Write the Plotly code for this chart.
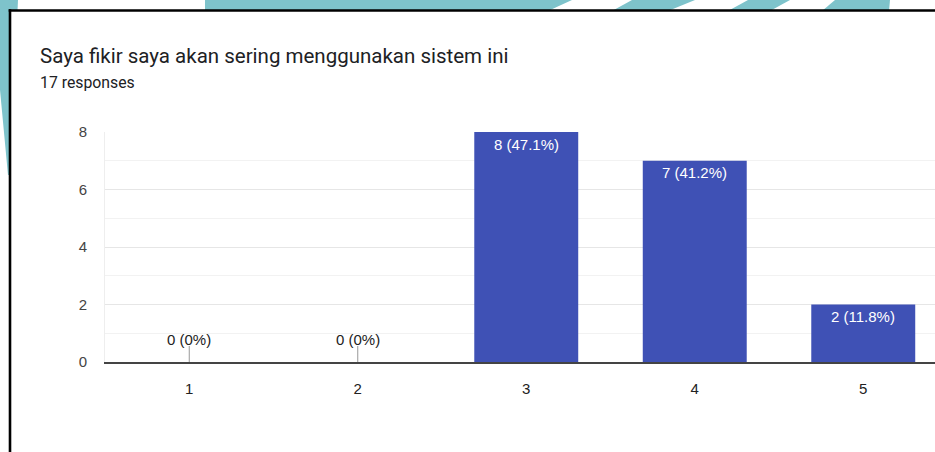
import plotly.graph_objects as go

# ---- data ----
categories = [1, 2, 3, 4, 5]
counts = [0, 0, 8, 7, 2]
total_responses = 17
pct_labels = ["0%", "0%", "47.1%", "41.2%", "11.8%"]
title_text = "Saya fikir saya akan sering menggunakan sistem ini"
subtitle_text = "17 responses"
y_ticks = [0, 2, 4, 6, 8]

# ---- geometry (pixels) ----
W, H = 935, 452
L, R, T, B = 105, 0, 132, 90
PW, PH = W - L - R, H - T - B


def px(x):
    return (x - L) / PW


def py(y):
    return (H - B - y) / PH


BAR = "#3F51B5"
TEAL = "#7EC3CB"
CHART_FONT = "Liberation Sans, Arial, sans-serif"

labels = [f"{c} ({p})" for c, p in zip(counts, pct_labels)]

fig = go.Figure()
fig.add_trace(go.Bar(
    x=categories, y=counts, width=0.617,
    marker=dict(color=BAR, line=dict(width=0)),
    hoverinfo="skip",
))

annotations = []
shapes = []
for c, v, lab in zip(categories, counts, labels):
    if v > 0:
        annotations.append(dict(
            x=c, y=v, xref="x", yref="y", text=lab, showarrow=False,
            yanchor="middle", yshift=-12,
            font=dict(family=CHART_FONT, size=15, color="#ffffff")))
    else:
        annotations.append(dict(
            x=c, y=v, xref="x", yref="y", text=lab, showarrow=False,
            yanchor="middle", yshift=23,
            font=dict(family=CHART_FONT, size=15, color="#222222")))
        shapes.append(dict(
            type="line", xref="x", yref="y", ysizemode="pixel", yanchor=0,
            x0=c, x1=c, y0=0, y1=16,
            line=dict(color="#999999", width=1)))

# title & subtitle
annotations.append(dict(
    x=px(38), y=py(56), xref="paper", yref="paper", text=title_text,
    showarrow=False, xanchor="left", yanchor="middle",
    font=dict(family="Roboto, Arial, sans-serif", size=20.5, color="#202124")))
annotations.append(dict(
    x=px(38), y=py(83), xref="paper", yref="paper", text=subtitle_text,
    showarrow=False, xanchor="left", yanchor="middle",
    font=dict(family="Roboto, Arial, sans-serif", size=15.8, color="#202124")))


def poly(points):
    d = "M " + " L ".join(f"{px(x):.5f},{py(y):.5f}" for x, y in points) + " Z"
    return dict(type="path", xref="paper", yref="paper", path=d,
                fillcolor=TEAL, line=dict(width=0, color=TEAL), layer="below")


# decorative background shapes (outside the card)
shapes += [
    poly([(0, 0), (18, 0), (10, 175), (8, 175), (0, 90)]),
    poly([(205, 0), (572, 0), (548, 11), (205, 11)]),
    poly([(632, 0), (695, 0), (668, 11), (612, 11)]),
    poly([(748, 0), (790, 0), (770, 11), (728, 11)]),
    poly([(835, 0), (890, 0), (889, 11), (822, 11)]),
]
# card (white) and its black border
shapes.append(dict(type="rect", xref="paper", yref="paper",
                   x0=px(10), x1=px(W), y0=py(10.5), y1=py(H),
                   fillcolor="white", line=dict(width=0, color="white"),
                   layer="below"))
shapes.append(dict(type="line", xref="paper", yref="paper",
                   x0=px(10), x1=px(10), y0=py(9.3), y1=py(H),
                   line=dict(color="#000000", width=2.6), layer="above"))
shapes.append(dict(type="line", xref="paper", yref="paper",
                   x0=px(8.7), x1=px(W), y0=py(10.5), y1=py(10.5),
                   line=dict(color="#000000", width=2.6), layer="above"))

fig.update_layout(
    width=W, height=H,
    margin=dict(l=L, r=R, t=T, b=B, pad=0),
    paper_bgcolor="white", plot_bgcolor="white",
    showlegend=False, bargap=0.383,
    annotations=annotations, shapes=shapes,
    xaxis=dict(
        range=[0.5, 0.5 + PW / 168.5], tickmode="array", tickvals=categories,
        ticktext=[str(c) for c in categories], showgrid=False, zeroline=False,
        showline=True, linecolor="#444444", linewidth=1.5,
        ticks="", ticklabelstandoff=12, fixedrange=True,
        tickfont=dict(family=CHART_FONT, size=15, color="#222222")),
    yaxis=dict(
        range=[0, 8], tickmode="array", tickvals=y_ticks,
        showgrid=True, gridcolor="#e6e6e6", gridwidth=1,
        minor=dict(dtick=1, showgrid=True, gridcolor="#f2f2f2", gridwidth=1),
        zeroline=False, showline=True, linecolor="#eeeeee", linewidth=1,
        ticks="", ticklabelstandoff=14, fixedrange=True,
        tickfont=dict(family=CHART_FONT, size=15, color="#444444")),
)

fig.write_html(
    "out.html",
    config={"displayModeBar": False},
    post_script="document.body.style.margin='0';document.body.style.overflow='hidden';",
)
